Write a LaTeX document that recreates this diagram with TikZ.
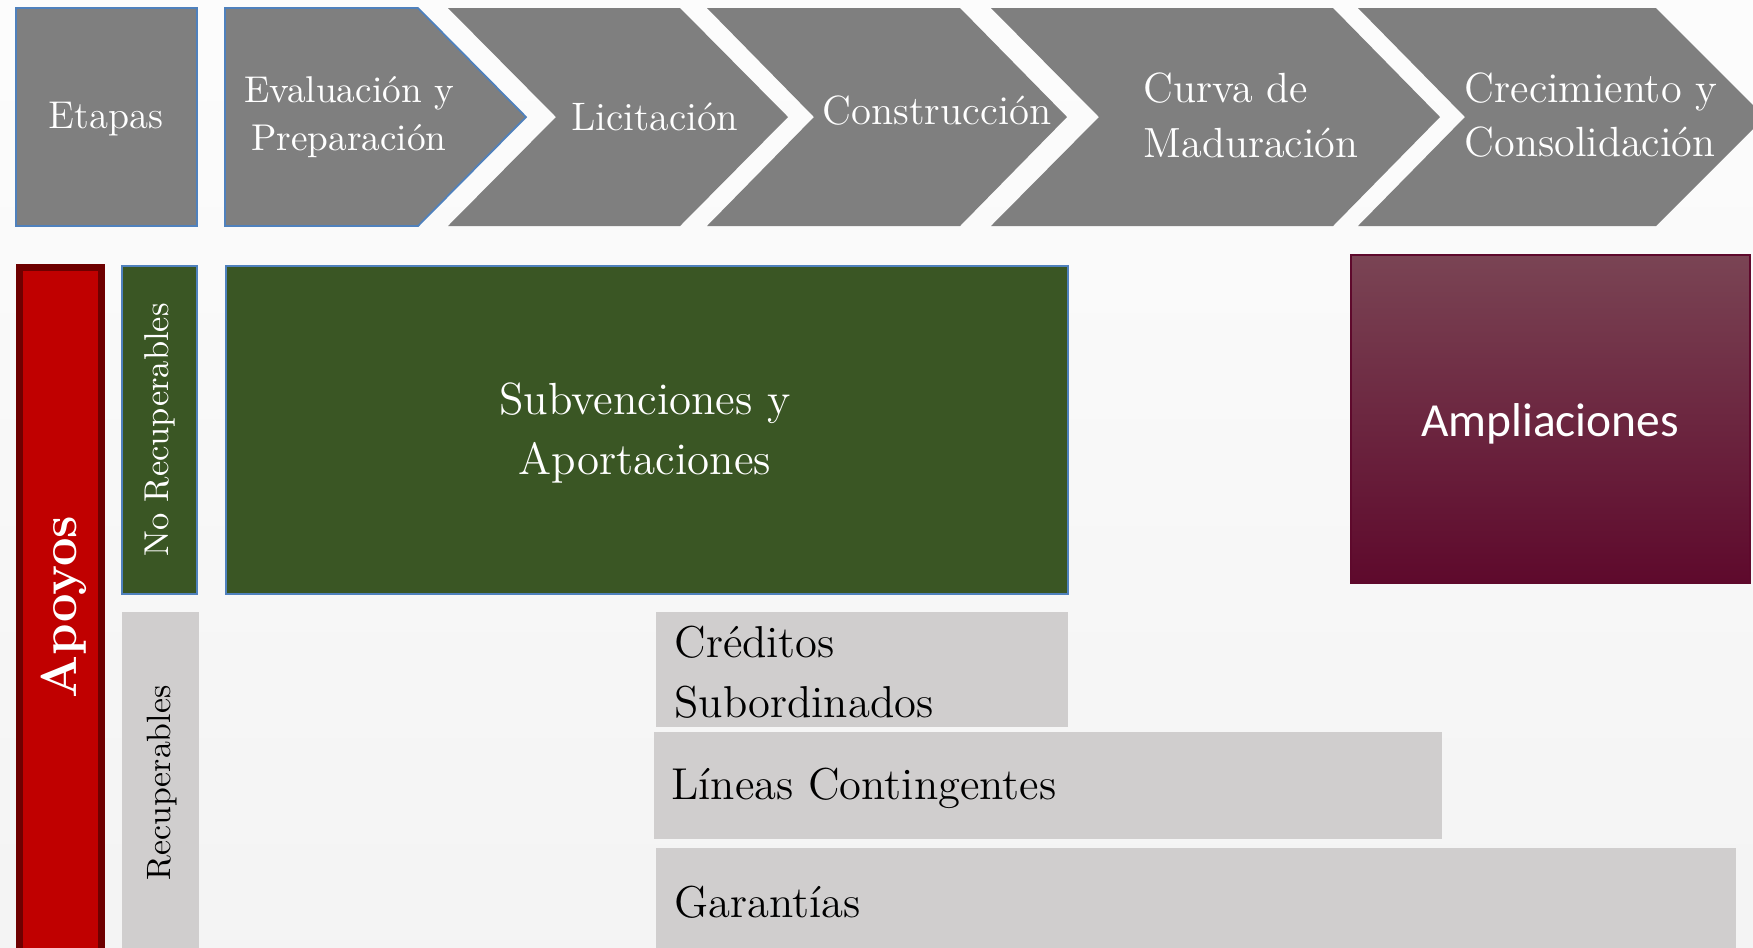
\documentclass[tikz,border=0pt]{standalone}
\usepackage{fontspec}
\newfontfamily\calibrifont{Carlito}
\usepackage{tikz}

\definecolor{etapagris}{RGB}{127,127,127}
\definecolor{bordeazul}{RGB}{79,129,189}
\definecolor{verdeoscuro}{RGB}{58,86,36}
\definecolor{rojoapoyo}{RGB}{192,0,0}
\definecolor{rojoborde}{RGB}{110,0,0}
\definecolor{grisclaro}{RGB}{208,206,206}
\definecolor{vinoarriba}{RGB}{122,68,84}
\definecolor{vinomedio}{RGB}{100,14,48}
\definecolor{vinoabajo}{RGB}{94,9,44}

\begin{document}
\begin{tikzpicture}[x=0.01cm,y=-0.01cm,
  etapa/.style={fill=etapagris},
  etapatxt/.style={text=white,align=center,font=\fontsize{11}{13.7}\selectfont},
  etapagrande/.style={text=white,align=left,font=\fontsize{12}{15.6}\selectfont},
  apoyotxt/.style={text=black,align=left,font=\fontsize{12.7}{17.2}\selectfont}]
  \clip (0,0) rectangle (1753,947);
  \shade[top color=gray!2,bottom color=gray!9] (0,0) rectangle (1753,947);
  % etapas
  \filldraw[etapa,draw=bordeazul,line width=0.5pt] (16,8) rectangle (197,226);
  \filldraw[etapa,draw=bordeazul,line width=0.5pt] (225,8) -- (418,8) -- (526,117) -- (418,226) -- (225,226) -- cycle;
  \fill[etapa] (448,8) -- (680,8) -- (788,117) -- (680,226) -- (448,226) -- (556,117) -- cycle;
  \fill[etapa] (707,8) -- (960,8) -- (1067,117) -- (960,226) -- (707,226) -- (814,117) -- cycle;
  \fill[etapa] (991,8) -- (1333,8) -- (1440,117) -- (1333,226) -- (991,226) -- (1099,117) -- cycle;
  \fill[etapa] (1358,8) -- (1656,8) -- (1765,117) -- (1656,226) -- (1358,226) -- (1465,117) -- cycle;
  \node (etapas) at (106,119) [etapatxt] {Etapas};
  \node (evaluacion) at (349,117) [etapatxt,font=\fontsize{10.6}{13.7}\selectfont] {Evaluación y\\Preparación};
  \node (licitacion) at (655,117) [etapatxt,font=\fontsize{11.3}{13.7}\selectfont] {Licitación};
  \node (construccion) at (937,111) [etapatxt,font=\fontsize{11.6}{13.7}\selectfont] {Construcción};
  \node (curva) at (1251,115) [etapagrande] {Curva de\\Maduración};
  \node (crecimiento) at (1591,115) [etapagrande] {Crecimiento y\\Consolidación};
  % apoyos
  \filldraw[fill=rojoapoyo,draw=rojoborde,line width=2pt] (19.5,267.5) rectangle (101.5,960);
  \node (apoyos) at (64,607) [rotate=90,text=white,font=\fontsize{14.4}{17}\selectfont\bfseries] {Apoyos};
  \filldraw[fill=verdeoscuro,draw=bordeazul,line width=0.5pt] (122,266) rectangle (197,594);
  \node (norecup) at (160,430) [rotate=90,text=white,font=\fontsize{9.8}{12}\selectfont] {No Recuperables};
  \fill[grisclaro] (122,612) rectangle (199,960);
  \node (recup) at (162,783) [rotate=90,text=black,font=\fontsize{9.6}{12}\selectfont] {Recuperables};
  \filldraw[fill=verdeoscuro,draw=bordeazul,line width=0.5pt] (226,266) rectangle (1068,594);
  \node (subvenciones) at (645,433) [text=white,align=center,font=\fontsize{12.8}{17}\selectfont] {Subvenciones y\\Aportaciones};
  \fill[grisclaro] (656,612) rectangle (1068,727);
  \node (creditos) at (662,672) [anchor=west,apoyotxt] {Créditos\\Subordinados};
  \fill[grisclaro] (654,732) rectangle (1442,839);
  \node (lineas) at (659,788) [anchor=west,apoyotxt] {Líneas Contingentes};
  \fill[grisclaro] (656,848) rectangle (1736,960);
  \node (garantias) at (662,902) [anchor=west,apoyotxt] {Garantías};
  \shade[top color=vinoarriba,middle color=vinomedio,bottom color=vinoabajo,draw=vinoabajo] (1351,255) rectangle (1750,583);
  \node (ampliaciones) at (1550,424) [text=white,font=\calibrifont\fontsize{13.5}{16}\selectfont] {Ampliaciones};
\end{tikzpicture}
\end{document}
